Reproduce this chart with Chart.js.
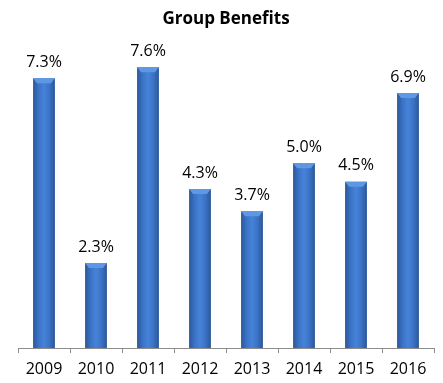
<!DOCTYPE html>
<html>
<head>
<meta charset="utf-8">
<script src="https://cdn.jsdelivr.net/npm/chart.js@4.4.1/dist/chart.umd.min.js"></script>
<style>
  html, body { margin: 0; padding: 0; background: #fff; }
  #wrap { width: 443px; height: 383px; }
</style>
</head>
<body>
<div id="wrap"><canvas id="chart" width="443" height="383"></canvas></div>
<script>
// values
const years = ['2009', '2010', '2011', '2012', '2013', '2014', '2015', '2016'];
const benefits = [7.3, 2.3, 7.6, 4.3, 3.7, 5.0, 4.5, 6.9];

const FONT = '"Open Sans", "Liberation Sans", sans-serif';

// side-to-side shading + bevel on top of every bar
const barLook = {
    id: 'barLook',
    beforeDatasetsDraw(chart) {
        const ctx = chart.ctx;
        chart.getDatasetMeta(0).data.forEach(bar => {
            const l = bar.x - bar.width / 2, r = bar.x + bar.width / 2;
            const g = ctx.createLinearGradient(l, 0, r, 0);
            g.addColorStop(0, '#2b5698');
            g.addColorStop(0.25, '#3a73c6');
            g.addColorStop(0.5, '#4683d8');
            g.addColorStop(0.75, '#3a73c6');
            g.addColorStop(1, '#2b5698');
            // options can be shared between bars, so give each its own copy
            bar.options = Object.assign({}, bar.options, { backgroundColor: g });
        });
    },
    afterDatasetsDraw(chart) {
        const ctx = chart.ctx;
        chart.getDatasetMeta(0).data.forEach((bar, i) => {
            const l = bar.x - bar.width / 2, r = bar.x + bar.width / 2, t = bar.y;
            ctx.save();
            ctx.fillStyle = '#5e98e2';
            ctx.beginPath();
            ctx.moveTo(l, t);
            ctx.lineTo(r, t);
            ctx.lineTo(r - 4, t + 5);
            ctx.lineTo(l + 4, t + 5);
            ctx.closePath();
            ctx.fill();
            ctx.fillStyle = '#000';
            ctx.font = '16px ' + FONT;
            ctx.textAlign = 'center';
            ctx.textBaseline = 'bottom';
            ctx.fillText(benefits[i].toFixed(1) + '%', bar.x, t - 8);
            ctx.restore();
        });
    }
};

new Chart(document.getElementById('chart'), {
    type: 'bar',
    data: {
        labels: years,
        datasets: [{
            data: benefits,
            backgroundColor: '#3870c2',
            borderWidth: 0,
            barPercentage: 0.42,
            categoryPercentage: 1
        }]
    },
    options: {
        responsive: false,
        animation: false,
        layout: { padding: { left: 18, right: 9, top: 0, bottom: 0 } },
        plugins: {
            legend: { display: false },
            tooltip: { enabled: false },
            title: {
                display: true,
                text: 'Group Benefits',
                color: '#000',
                font: { family: FONT, size: 17, weight: 'bold' },
                padding: { top: 9, bottom: 23 }
            }
        },
        scales: {
            x: {
                grid: { drawOnChartArea: false, tickLength: 5, color: '#8c8c8c' },
                border: { color: '#8c8c8c' },
                ticks: { color: '#000', font: { family: FONT, size: 16 }, padding: 7 },
                afterFit(scale) { scale.height = 35; }
            },
            y: { display: false, min: 0, max: 8 }
        }
    },
    plugins: [barLook]
});
</script>
</body>
</html>
